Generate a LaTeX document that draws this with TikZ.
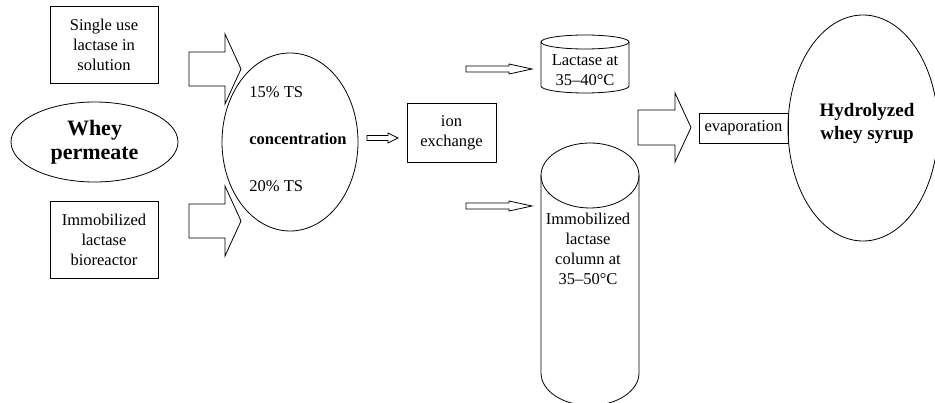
\documentclass[tikz,border=0pt]{standalone}
\usepackage{fontspec}
\setmainfont{Liberation Serif}
\usetikzlibrary{shapes.geometric}
\tikzset{
  box/.style={draw, rectangle, inner sep=0pt, align=center, font=\fontsize{16.5}{20}\selectfont},
  oval/.style={draw, ellipse, inner sep=0pt, align=center},
  txt/.style={inner sep=0pt, align=center, font=\fontsize{16.5}{20}\selectfont},
  fat/.style={draw, line join=miter},
}
% block arrow: x start, y centre, shaft length, total length, shaft half-height, head half-height
\newcommand\fatarr[6]{\draw[fat] (#1,#2-#5) -- (#1+#3,#2-#5) -- (#1+#3,#2-#6) -- (#1+#4,#2) -- (#1+#3,#2+#6) -- (#1+#3,#2+#5) -- (#1,#2+#5) -- cycle;}
\begin{document}
\begin{tikzpicture}[x=1pt,y=-1pt,line width=0.8pt]
\useasboundingbox (0,0) rectangle (935,403);
\clip (0,0) rectangle (935,403);

\node[box, minimum width=108, minimum height=77] (single) at (104,44.5) {Single use\\lactase in\\solution};
\node[oval, minimum width=167, minimum height=80, font=\bfseries\fontsize{22}{24}\selectfont] (whey) at (94.5,142) {Whey\\permeate};
\node[box, minimum width=108, minimum height=77] (immob) at (104,239.5) {Immobilized\\lactase\\bioreactor};

\fatarr{189}{69}{36}{52}{17}{35}
\fatarr{189}{221}{36}{52}{17}{35}

\node[oval, minimum width=136, minimum height=178] (conc) at (290,142) {};
\node[txt, anchor=west] (ts15) at (249,92) {15\% TS};
\node[txt, anchor=west, font=\bfseries\fontsize{16.5}{20}\selectfont] (conctext) at (249,139) {concentration};
\node[txt, anchor=west] (ts20) at (249,186) {20\% TS};

\fatarr{367}{138}{21}{31}{2.5}{5}
\node[box, minimum width=89, minimum height=59] (ion) at (451.5,132.5) {ion\\exchange};

\fatarr{466}{69}{43}{66}{3}{5}
\fatarr{466}{206}{43}{66}{3}{5}

% small cylinder
\draw (585,42) ellipse [x radius=44, y radius=7];
\draw (541,42) -- (541,86) arc[start angle=180, end angle=0, x radius=44, y radius=7] -- (629,42);
\node[txt] (lac) at (585,70) {Lactase at\\35–40°C};

% big cylinder
\draw (590,175.5) ellipse [x radius=49, y radius=32.5];
\draw (541,175.5) -- (541,373) arc[start angle=180, end angle=0, x radius=49, y radius=32.5] -- (639,175.5);
\node[txt] (col) at (588,249) {Immobilized\\lactase\\column at\\35–50°C};

\fatarr{638}{127.5}{37}{53}{17.5}{34.5}
\node[box, minimum width=89, minimum height=30] (evap) at (743.5,128) {evaporation};
\node[oval, minimum width=150, minimum height=226] (hyd) at (863,128) {};
\node[txt, font=\bfseries\fontsize{19}{23}\selectfont] (hydtext) at (867,123.5) {Hydrolyzed\\whey syrup};
\end{tikzpicture}
\end{document}
